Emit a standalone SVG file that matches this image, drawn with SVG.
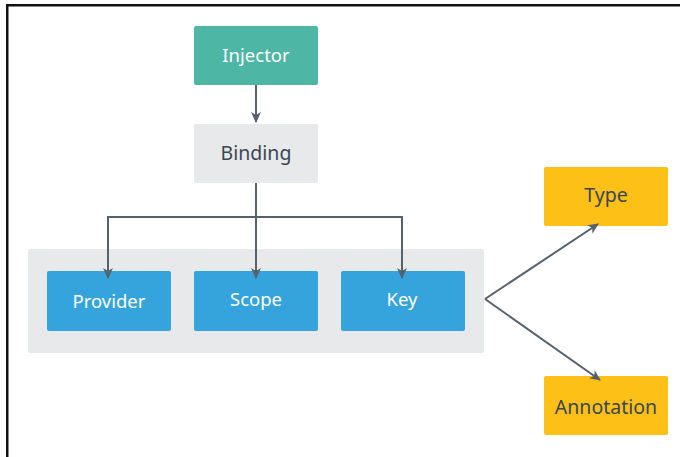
<svg xmlns="http://www.w3.org/2000/svg" width="680" height="457" viewBox="0 0 680 457">
<style>
.lbl{font-family:"Noto Sans","Open Sans","Liberation Sans",sans-serif;text-anchor:middle;dominant-baseline:central}
.w{fill:#ffffff;font-size:18.5px}
.d{fill:#3a4656;font-size:19.5px}
.c{fill:none;stroke:#56616d;stroke-width:2}
</style>
<defs>
<marker id="ah" viewBox="0 0 12 12" refX="10" refY="6" markerWidth="12" markerHeight="12" markerUnits="userSpaceOnUse" orient="auto">
<path d="M0,1 L11,6 L0,11 L3,6 Z" fill="#56616d"/>
</marker>
</defs>
<rect x="0" y="0" width="680" height="457" fill="#ffffff"/>
<path d="M7.25,460 L7.25,5.25 L690,5.25" fill="none" stroke="#111111" stroke-width="2.5"/>
<g id="group-bg"><rect x="28" y="249" width="456" height="104" rx="2" fill="#e8e9eb"/></g>
<g id="injector"><rect x="194" y="26" width="124" height="59" rx="2" fill="#4db6a4"/><text class="lbl w" x="256" y="54">Injector</text></g>
<g id="binding"><rect x="194" y="124" width="124" height="59" rx="2" fill="#e8e9eb"/><text class="lbl d" x="256" y="152">Binding</text></g>
<g id="provider"><rect x="47" y="271" width="124" height="60" rx="2" fill="#35a3dc"/><text class="lbl w" x="109" y="300">Provider</text></g>
<g id="scope"><rect x="194" y="271" width="124" height="60" rx="2" fill="#35a3dc"/><text class="lbl w" x="256" y="298">Scope</text></g>
<g id="key"><rect x="341" y="271" width="124" height="60" rx="2" fill="#35a3dc"/><text class="lbl w" x="402" y="298">Key</text></g>
<g id="type"><rect x="544" y="167" width="124" height="59" rx="2" fill="#fcc016"/><text class="lbl d" x="606" y="194">Type</text></g>
<g id="annotation"><rect x="544" y="376" width="124" height="59" rx="2" fill="#fcc016"/><text class="lbl d" x="606" y="406">Annotation</text></g>
<g id="connectors">
<path class="c" d="M256,85 L256,122" marker-end="url(#ah)"/>
<path class="c" d="M256,183 L256,278" marker-end="url(#ah)"/>
<path class="c" d="M256,217 L108,217 L108,278" marker-end="url(#ah)"/>
<path class="c" d="M256,217 L402,217 L402,278" marker-end="url(#ah)"/>
<path class="c" d="M485,299 L598,224" marker-end="url(#ah)"/>
<path class="c" d="M485,299 L600,380" marker-end="url(#ah)"/>
</g>
</svg>
